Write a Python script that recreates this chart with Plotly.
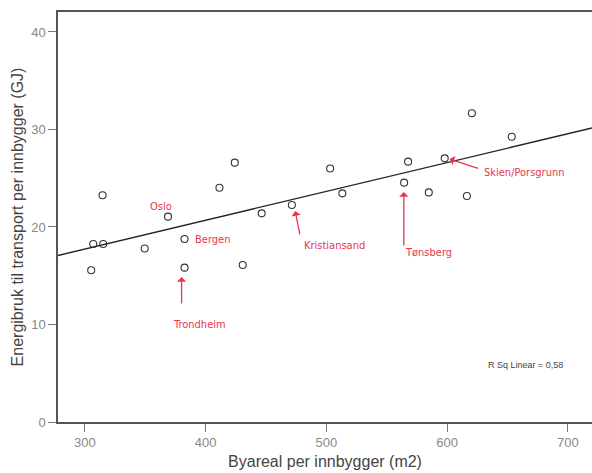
import numpy as np
import plotly.graph_objects as go

# Data
byareal = [305.2, 306.9, 315.1, 314.6, 349.5, 368.8, 382.5, 382.5, 411.4, 424.1,
           430.7, 446.4, 471.4, 503.1, 513.2, 564.4, 567.7, 584.8, 598.0, 616.4,
           620.5, 653.5]
energi = [15.56, 18.26, 18.26, 23.25, 17.8, 21.06, 18.77, 15.83, 24.03, 26.6,
          16.1, 21.4, 22.26, 26.0, 23.45, 24.55, 26.7, 23.55, 27.04, 23.18,
          31.66, 29.26]

x_range = [277.7, 720]
y_range = [0, 42.05]
x_ticks = [300, 400, 500, 600, 700]
y_ticks = [0, 10, 20, 30, 40]

# handwritten notes: (label, text_x, text_y, arrow_tail_x, arrow_tail_y, arrow_head_x, arrow_head_y) in data coords
notes_label = ["Oslo", "Bergen", "Trondheim", "Kristiansand", "Tønsberg", "Skien/Porsgrunn"]

slope, intercept = np.polyfit(byareal, energi, 1)
pred = slope * np.array(byareal) + intercept
ss_res = np.sum((np.array(energi) - pred) ** 2)
ss_tot = np.sum((np.array(energi) - np.mean(energi)) ** 2)
r2 = 1 - ss_res / ss_tot

fig = go.Figure()
fig.add_trace(go.Scatter(
    x=x_range, y=[slope * v + intercept for v in x_range], mode="lines",
    line=dict(color="#222222", width=1.3), hoverinfo="skip", showlegend=False))
fig.add_trace(go.Scatter(
    x=byareal, y=energi, mode="markers",
    marker=dict(symbol="circle-open", size=7, color="#333333", line=dict(width=1.1)),
    showlegend=False))

def px2x(px):
    return 300 + (px - 85) / 1.2115

def px2y(py):
    return (422 - py) / 9.75

red = "#e8364f"
hand = dict(family="DejaVu Sans Condensed, DejaVu Sans", size=11, color=red)

texts = [
    ("Oslo", 161, 207, None),
    ("Bergen", 213, 240, None),
    ("Trondheim", 200, 324, (182, 305, 182, 277)),
    ("Kristiansand", 335, 246, (301, 236, 296, 211)),
    ("Tønsberg", 430, 253, (405, 247, 405, 192)),
]
for t, tx, ty, arr in texts:
    fig.add_annotation(x=px2x(tx), y=px2y(ty), text=t, showarrow=False,
                       font=hand, xref="x", yref="y")
    if arr:
        fig.add_annotation(x=px2x(arr[2]), y=px2y(arr[3]), ax=px2x(arr[0]), ay=px2y(arr[1]),
                           axref="x", ayref="y", xref="x", yref="y", text="",
                           showarrow=True, arrowhead=1, arrowsize=1.2, arrowwidth=1.3,
                           arrowcolor=red)
fig.add_annotation(x=px2x(483), y=px2y(173), text="Skien/Porsgrunn", showarrow=False,
                   font=hand, xanchor="left", xref="x", yref="y")
fig.add_annotation(x=px2x(451), y=px2y(159), ax=px2x(481), ay=px2y(169),
                   axref="x", ayref="y", xref="x", yref="y", text="",
                   showarrow=True, arrowhead=1, arrowsize=1.2, arrowwidth=1.3, arrowcolor=red)

fig.add_annotation(x=px2x(527), y=px2y(365),
                   text="R Sq Linear = " + f"{r2:.2f}".replace(".", ","),
                   showarrow=False, xref="x", yref="y",
                   font=dict(family="Liberation Sans, Arial", size=9, color="#444444"))

axis_common = dict(showgrid=False, zeroline=False, showline=True, linecolor="#555555",
                   linewidth=1.5, ticks="outside", ticklen=8, tickcolor="#777777",
                   tickfont=dict(family="Liberation Sans, Arial", size=13, color="#888888"))
fig.update_xaxes(range=x_range, tickvals=x_ticks, mirror=True,
                 title=dict(text="Byareal per innbygger (m2)", standoff=6,
                            font=dict(family="Liberation Sans, Arial", size=16, color="#444444")),
                 **axis_common)
fig.update_yaxes(range=y_range, tickvals=y_ticks,
                 title=dict(text="Energibruk til transport per innbygger (GJ)", standoff=4,
                            font=dict(family="Liberation Sans, Arial", size=16, color="#444444")),
                 **axis_common)
fig.update_layout(width=592, height=473, margin=dict(l=58, r=0, t=12, b=51),
                  plot_bgcolor="white", paper_bgcolor="white")
fig.write_html("out.html")
